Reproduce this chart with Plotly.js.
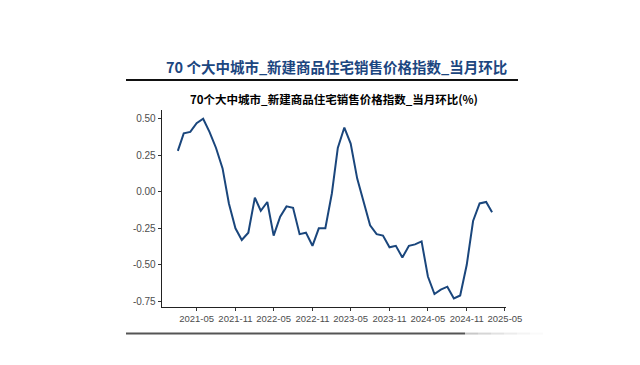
<!DOCTYPE html>
<html><head><meta charset="utf-8">
<script src="https://cdn.plot.ly/plotly-3.0.1.min.js"></script>
<style>html,body{margin:0;padding:0;background:#fff;}#chart{width:640px;height:365px;}</style>
</head><body><div id="chart"></div>
<script>
const months = ["2021-02","2021-03","2021-04","2021-05","2021-06","2021-07","2021-08","2021-09","2021-10","2021-11","2021-12",
"2022-01","2022-02","2022-03","2022-04","2022-05","2022-06","2022-07","2022-08","2022-09","2022-10","2022-11","2022-12",
"2023-01","2023-02","2023-03","2023-04","2023-05","2023-06","2023-07","2023-08","2023-09","2023-10","2023-11","2023-12",
"2024-01","2024-02","2024-03","2024-04","2024-05","2024-06","2024-07","2024-08","2024-09","2024-10","2024-11","2024-12",
"2025-01","2025-02","2025-03"];
const momChange = [0.28,0.40,0.41,0.47,0.50,0.41,0.30,0.16,-0.08,-0.25,-0.33,
-0.28,-0.04,-0.13,-0.07,-0.30,-0.17,-0.10,-0.11,-0.29,-0.28,-0.37,-0.25,
-0.25,-0.01,0.30,0.44,0.33,0.09,-0.07,-0.23,-0.29,-0.30,-0.38,-0.37,
-0.45,-0.37,-0.36,-0.34,-0.58,-0.70,-0.67,-0.65,-0.73,-0.71,-0.50,-0.20,
-0.08,-0.07,-0.14];
const yTickVals = [0.5,0.25,0,-0.25,-0.5,-0.75];
const yTickText = ["0.50","0.25","0.00","-0.25","-0.50","-0.75"];
const xTickVals = ["2021-05-01","2021-11-01","2022-05-01","2022-11-01","2023-05-01","2023-11-01","2024-05-01","2024-11-01","2025-05-01"];
const xTickText = ["2021-05","2021-11","2022-05","2022-11","2023-05","2023-11","2024-05","2024-11","2025-05"];
const mainTitle = "70 个大中城市_新建商品住宅销售价格指数_当月环比";
const chartTitle = "70个大中城市_新建商品住宅销售价格指数_当月环比(%)";

const W = 640, H = 365;
const L = 162, R = 506, T = 109.5, B = 306.7;
function fx(x){return (x - L) / (R - L);}
function fy(y){return (B - y) / (B - T);}

const shapes = [
  {type:'line', xref:'paper', yref:'paper', x0:fx(126), x1:fx(518), y0:fy(79.5), y1:fy(79.5), line:{color:'#111', width:2}},
  {type:'line', xref:'paper', yref:'paper', x0:fx(126), x1:fx(465), y0:fy(333.3), y1:fy(333.3), line:{color:'#555', width:2}}
];
const fadeCols = ['#c8c8c8','#d6d6d6','#e2e2e2','#ececec','#f4f4f4','#fafafa'];
for (let i=0;i<fadeCols.length;i++){
  const a = 465 + i*13, b = a + 13;
  shapes.push({type:'line', xref:'paper', yref:'paper', x0:fx(a), x1:fx(b), y0:fy(333.3), y1:fy(333.3), line:{color:fadeCols[i], width:2}});
}

const trace = {
  x: months.map(m => m + "-01"),
  y: momChange,
  type: 'scatter', mode: 'lines',
  line: {color:'#1a467c', width:2},
  hoverinfo: 'x+y'
};

const layout = {
  width: W, height: H,
  margin: {l:L, r:W-R, t:T, b:H-B, pad:0},
  paper_bgcolor:'#fff', plot_bgcolor:'#fff',
  showlegend:false,
  font: {family:'"Liberation Sans", Arial, sans-serif', color:'#4d4d4d', size:9.5},
  title: {text: chartTitle, x: 334/W, xanchor:'center', y: 1-100/H, yanchor:'middle',
          font:{family:'"Noto Sans CJK SC", "Liberation Sans", sans-serif', size:11.5, color:'#000', weight:'bold'}},
  xaxis: {type:'date', range:['2020-11-18','2025-05-06'], showgrid:false, zeroline:false,
          showline:true, linecolor:'#222', linewidth:1.3, ticks:'outside', ticklen:3, tickcolor:'#333', tickwidth:1,
          ticklabelstandoff:-1, tickangle:0,
          tickvals:xTickVals, ticktext:xTickText, tickfont:{color:'#4d4d4d', size:9.5}},
  yaxis: {range:[-0.789, 0.56], showgrid:false, zeroline:false,
          showline:true, linecolor:'#222', linewidth:1.3, ticks:'outside', ticklen:3, tickcolor:'#333', tickwidth:1,
          tickvals:yTickVals, ticktext:yTickText, tickfont:{color:'#4d4d4d', size:10}},
  shapes: shapes,
  annotations: [
    {text:'<b>'+mainTitle+'</b>', xref:'paper', yref:'paper', x:fx(336), y:fy(66),
     xanchor:'center', yanchor:'middle', showarrow:false,
     font:{family:'"Noto Sans CJK SC", sans-serif', size:14.5, color:'#1c4680'}}
  ]
};

Plotly.newPlot('chart', [trace], layout, {staticPlot:true, displayModeBar:false});
</script></body></html>
